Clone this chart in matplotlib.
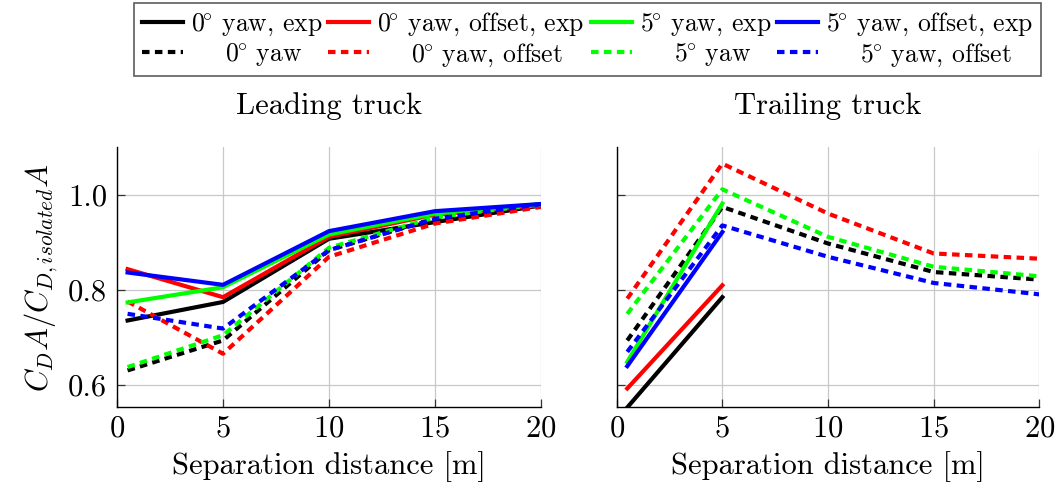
import matplotlib
matplotlib.use("Agg")
import matplotlib.pyplot as plt

plt.rcParams['font.family'] = ['cmr10', 'DejaVu Serif']
plt.rcParams['mathtext.fontset'] = 'cm'
plt.rcParams['axes.formatter.use_mathtext'] = True

separation = [0.5, 5, 10, 15, 20]
separation_exp = [0.5, 5]

# Leading truck
lead_0yaw_exp = [0.735, 0.774, 0.907, 0.942, 0.977]
lead_0yaw_off_exp = [0.843, 0.784, 0.911, 0.958, 0.977]
lead_5yaw_exp = [0.773, 0.805, 0.916, 0.960, 0.980]
lead_5yaw_off_exp = [0.836, 0.810, 0.923, 0.965, 0.980]
lead_0yaw = [0.630, 0.693, 0.883, 0.950, 0.977]
lead_0yaw_off = [0.775, 0.665, 0.869, 0.939, 0.974]
lead_5yaw = [0.637, 0.704, 0.888, 0.952, 0.980]
lead_5yaw_off = [0.749, 0.718, 0.883, 0.949, 0.980]

# Trailing truck
trail_0yaw_exp = [0.552, 0.784]
trail_0yaw_off_exp = [0.592, 0.809]
trail_5yaw_exp = [0.648, 0.981]
trail_5yaw_off_exp = [0.639, 0.921]
trail_0yaw = [0.693, 0.974, 0.897, 0.837, 0.821]
trail_0yaw_off = [0.781, 1.065, 0.960, 0.876, 0.865]
trail_5yaw = [0.749, 1.011, 0.911, 0.848, 0.828]
trail_5yaw_off = [0.669, 0.935, 0.869, 0.814, 0.790]

labels_exp = [r'$0^{\!\!\circ}\!$ yaw, exp', r'$0^{\!\!\circ}\!$ yaw, offset, exp',
              r'$5^{\!\!\circ}\!$ yaw, exp', r'$5^{\!\!\circ}\!$ yaw, offset, exp']
labels_sim = [r'    $0^{\!\!\circ}\!$ yaw', r'    $0^{\!\!\circ}\!$ yaw, offset',
              r'    $5^{\!\!\circ}\!$ yaw', r'    $5^{\!\!\circ}\!$ yaw, offset']
colors = ['#000000', '#ff0000', '#00ff00', '#0000ff']

x_ticks = [0, 5, 10, 15, 20]
y_ticks = [0.6, 0.8, 1.0]
y_ticklabels = ['0.6', '0.8', '1.0']

W, H = 1059, 496
fig = plt.figure(figsize=(W / 100, H / 100), dpi=100)
ax1 = fig.add_axes([117 / W, (H - 407) / H, (541 - 117) / W, 260 / H])
ax2 = fig.add_axes([616.7 / W, (H - 407) / H, (1039.3 - 616.7) / W, 260 / H])

lw = 3.0
dash = (0, (1.8, 1.3))
FS = 22
LFS = 18.5

lead_exp = [lead_0yaw_exp, lead_0yaw_off_exp, lead_5yaw_exp, lead_5yaw_off_exp]
lead_sim = [lead_0yaw, lead_0yaw_off, lead_5yaw, lead_5yaw_off]
trail_exp = [trail_0yaw_exp, trail_0yaw_off_exp, trail_5yaw_exp, trail_5yaw_off_exp]
trail_sim = [trail_0yaw, trail_0yaw_off, trail_5yaw, trail_5yaw_off]

handles = []
for i in range(4):
    h1, = ax1.plot(separation, lead_exp[i], color=colors[i], lw=lw, label=labels_exp[i])
    h2, = ax1.plot(separation, lead_sim[i], color=colors[i], lw=lw, ls=dash, label=labels_sim[i])
    ax2.plot(separation_exp, trail_exp[i], color=colors[i], lw=lw)
    ax2.plot(separation, trail_sim[i], color=colors[i], lw=lw, ls=dash)
    handles += [h1, h2]

for ax in (ax1, ax2):
    ax.set_xlim(0, 20)
    ax.set_ylim(0.553, 1.1)
    ax.set_xticks(x_ticks)
    ax.set_yticks(y_ticks)
    ax.grid(True, color='#c8c8c8', lw=0.9)
    ax.set_axisbelow(True)
    for s in ('top', 'right'):
        ax.spines[s].set_visible(False)
    for s in ('left', 'bottom'):
        ax.spines[s].set_linewidth(1.0)
    ax.tick_params(direction='in', length=6, width=0.9, labelsize=FS, colors='#333333',
                   labelcolor='black')
    ax.tick_params(axis='x', pad=6)
    ax.tick_params(axis='y', pad=7)
    ax.set_xlabel('Separation distance [m]', fontsize=FS, labelpad=6)

ax1.set_yticklabels(y_ticklabels)
ax2.set_yticklabels([])
ax1.set_title('Leading truck', fontsize=FS, pad=24)
ax2.set_title('Trailing truck', fontsize=FS, pad=24)
ax1.set_ylabel(r'$C_DA/C_{D,isolated}A$', fontsize=FS, labelpad=6)

leg = fig.legend(handles=handles, loc='upper center', bbox_to_anchor=(587.5 / W, 1 - 3 / H),
                 ncol=4, fontsize=LFS, frameon=True, fancybox=False, edgecolor='#333333',
                 handlelength=1.6, columnspacing=0.25, handletextpad=0.3, borderpad=0.3,
                 labelspacing=0.12, borderaxespad=0)
leg.get_frame().set_linewidth(1.2)

fig.savefig('out.png', dpi=100)
